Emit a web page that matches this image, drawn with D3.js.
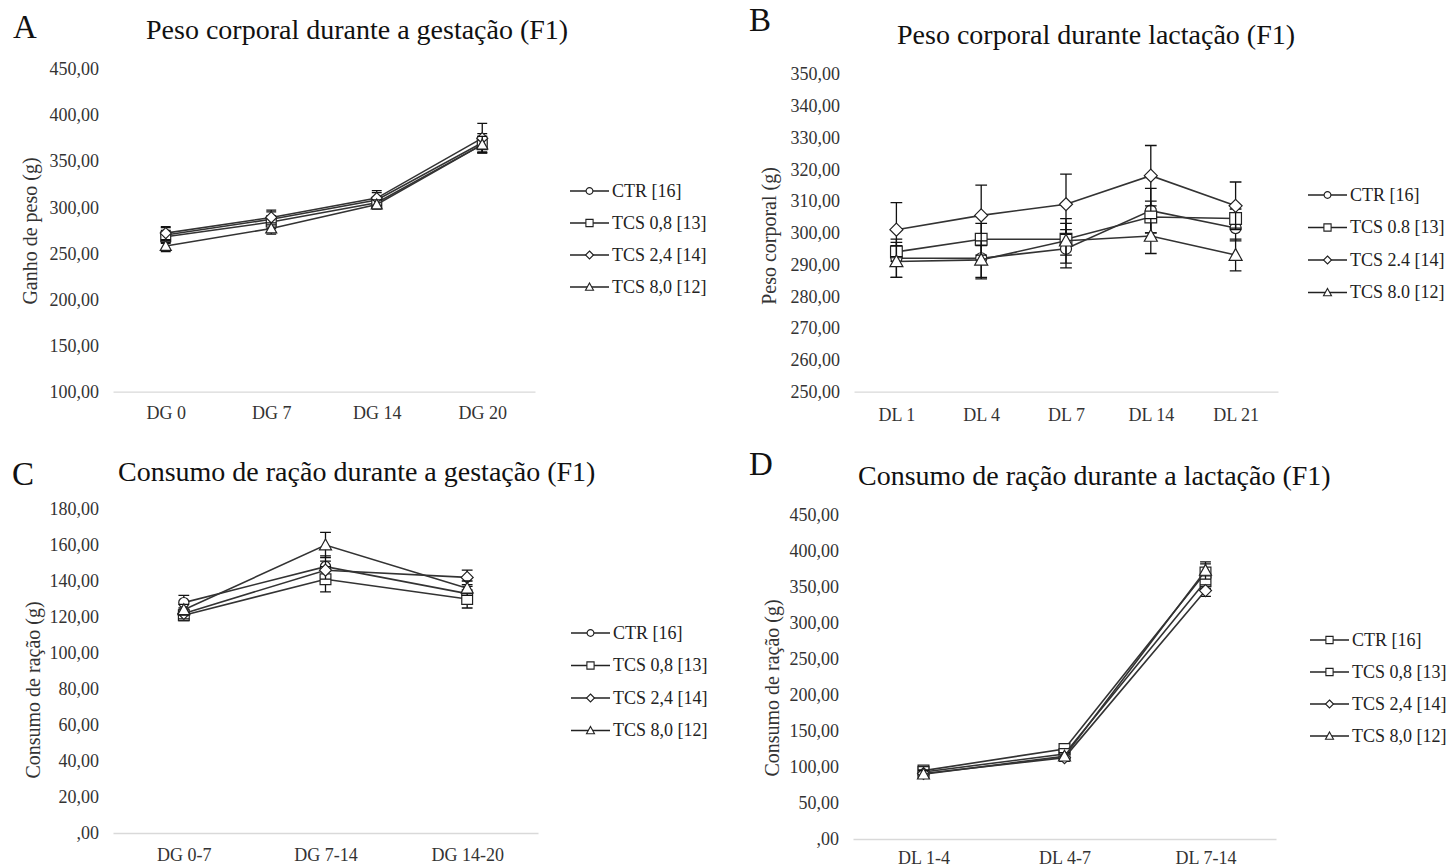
<!DOCTYPE html>
<html>
<head>
<meta charset="utf-8">
<script src="https://cdn.jsdelivr.net/npm/d3@7"></script>
<style>
  body { margin: 0; background: #fff; }
  svg { display: block; font-family: "Liberation Serif", "Times New Roman", serif; }
</style>
</head>
<body>
<script>
// ---- data ----
const catsA = ['DG 0', 'DG 7', 'DG 14', 'DG 20'];
const catsB = ['DL 1', 'DL 4', 'DL 7', 'DL 14', 'DL 21'];
const catsC = ['DG 0-7', 'DG 7-14', 'DG 14-20'];
const catsD = ['DL 1-4', 'DL 4-7', 'DL 7-14'];

const namesComma = ['CTR [16]', 'TCS 0,8 [13]', 'TCS 2,4 [14]', 'TCS 8,0 [12]'];
const namesDot = ['CTR [16]', 'TCS 0.8 [13]', 'TCS 2.4 [14]', 'TCS 8.0 [12]'];
const markersABC = ['circle', 'square', 'diamond', 'triangle'];
const markersD = ['square', 'square', 'diamond', 'triangle'];

// A: peso corporal, gestação
const ctrA = [270, 287, 308, 370];
const tcs08A = [268, 284, 305, 368];
const tcs24A = [272, 289, 310, 375];
const tcs80A = [258, 277, 303, 368];
const errA = [[8, 8, 8, 10], [7, 7, 6, 9], [7, 8, 8, 16], [6, 6, 5, 9]];

// B: peso corporal, lactação
const ctrB = [292, 292, 295, 307, 301.5];
const tcs08B = [294, 298, 298, 305, 304.5];
const tcs24B = [301, 305.5, 309, 318, 308.5];
const tcs80B = [291, 291.5, 297.5, 299, 293];
const errB = [[6, 6, 6, 7, 4], [3, 5, 5, 5, 3], [8.5, 9.5, 9.5, 9.5, 7.5], [5, 6, 7, 5.5, 5]];

// C: consumo de ração, gestação
const ctrC = [128, 148, 133];
const tcs08C = [121, 141, 130];
const tcs24C = [122, 146, 142];
const tcs80C = [124, 160, 136];
const errC = [[4, 6, 4], [3, 7, 5], [3, 5, 4], [3, 7, 4]];

// D: consumo de ração, lactação
const ctrD = [95, 125, 370];
const tcs08D = [93, 118, 358];
const tcs24D = [91, 113, 345];
const tcs80D = [90, 115, 373];
const errD = [[6, 7, 12], [5, 6, 10], [5, 5, 8], [5, 5, 12]];

const ticksA = d3.range(100, 451, 50);
const ticksB = d3.range(250, 351, 10);
const ticksC = d3.range(0, 181, 20);
const ticksD = d3.range(0, 451, 50);

const fmt = v => v === 0 ? ',00' : d3.format('.2f')(v).replace('.', ',');

const panels = [
  { letter: 'A', lx: 13, ly: 38, title: 'Peso corporal durante a gestação (F1)', tx: 146, ty: 39,
    cats: catsA, series: [ctrA, tcs08A, tcs24A, tcs80A], errs: errA, names: namesComma, markers: markersABC,
    ytitle: 'Ganho de peso (g)', ytx: 30, yty: 231, ticks: ticksA,
    x0: 113, x1: 535, yb: 391.7, yt: 69, xly: 413, leg: { x: 570, y: 191, dy: 32 }, ms: 11 },
  { letter: 'B', lx: 749, ly: 31, title: 'Peso corporal durante lactação (F1)', tx: 897, ty: 44,
    cats: catsB, series: [ctrB, tcs08B, tcs24B, tcs80B], errs: errB, names: namesDot, markers: markersABC,
    ytitle: 'Peso corporal (g)', ytx: 769, yty: 236, ticks: ticksB,
    x0: 854, x1: 1278, yb: 391.7, yt: 74, xly: 415, leg: { x: 1308, y: 195, dy: 32.5 }, ms: 13 },
  { letter: 'C', lx: 12, ly: 485, title: 'Consumo de ração durante a gestação (F1)', tx: 118, ty: 481,
    cats: catsC, series: [ctrC, tcs08C, tcs24C, tcs80C], errs: errC, names: namesComma, markers: markersABC,
    ytitle: 'Consumo de ração (g)', ytx: 33, yty: 690, ticks: ticksC,
    x0: 113, x1: 538, yb: 833, yt: 509, xly: 855, leg: { x: 571, y: 633, dy: 32.5 }, ms: 12 },
  { letter: 'D', lx: 749, ly: 475, title: 'Consumo de ração durante a lactação (F1)', tx: 858, ty: 485,
    cats: catsD, series: [ctrD, tcs08D, tcs24D, tcs80D], errs: errD, names: namesComma, markers: markersD,
    ytitle: 'Consumo de ração (g)', ytx: 772, yty: 688, ticks: ticksD,
    x0: 853, x1: 1276, yb: 839, yt: 515, xly: 858, leg: { x: 1310, y: 640, dy: 32 }, ms: 12 },
];

function markerPath(type, s) {
  const h = s / 2;
  if (type === 'circle') {
    const p = d3.path();
    p.arc(0, 0, h * 0.85, 0, 2 * Math.PI);
    return p.toString();
  }
  if (type === 'square') return `M${-h * 0.9},${-h * 0.9}H${h * 0.9}V${h * 0.9}H${-h * 0.9}Z`;
  if (type === 'diamond') return `M0,${-h}L${h},0L0,${h}L${-h},0Z`;
  return `M0,${-h}L${h},${h * 0.8}L${-h},${h * 0.8}Z`;
}

const svg = d3.select('body').append('svg').attr('width', 1452).attr('height', 868);
const serif = '"Liberation Serif", "Times New Roman", serif';

panels.forEach(p => {
  const g = svg.append('g');
  const x = d3.scalePoint().domain(p.cats).range([p.x0, p.x1]).padding(0.5);
  const y = d3.scaleLinear().domain(d3.extent(p.ticks)).range([p.yb, p.yt]);

  g.append('text').attr('x', p.lx).attr('y', p.ly)
    .style('font-size', '33px').attr('fill', '#111').text(p.letter);
  g.append('text').attr('x', p.tx).attr('y', p.ty)
    .style('font-size', '28px').attr('fill', '#111').text(p.title);

  // y axis: labels only
  const ya = g.append('g').attr('transform', `translate(${p.x0},0)`)
    .call(d3.axisLeft(y).tickValues(p.ticks).tickSize(0).tickPadding(14).tickFormat(fmt))
    .attr('font-family', serif).attr('font-size', 18);
  ya.select('.domain').remove();
  ya.selectAll('text').attr('fill', '#333');

  // x axis: gray baseline
  const xa = g.append('g').attr('transform', `translate(0,${p.yb})`)
    .call(d3.axisBottom(x).tickSize(0).tickSizeOuter(0))
    .attr('font-family', serif).attr('font-size', 18);
  xa.select('.domain').attr('stroke', '#d9d9d9').attr('stroke-width', 1.3);
  xa.selectAll('text').attr('fill', '#333').attr('y', p.xly - p.yb).attr('dy', '0.35em');

  g.append('text')
    .attr('transform', `translate(${p.ytx},${p.yty}) rotate(-90)`)
    .attr('text-anchor', 'middle').attr('dy', '0.35em')
    .style('font-size', '20px').attr('fill', '#333').text(p.ytitle);

  const line = d3.line().x((d, i) => x(p.cats[i])).y(d => y(d));

  p.series.forEach((vals, si) => {
    const sg = g.append('g');
    const cap = p.ms * 0.45;
    vals.forEach((v, i) => {
      const cx = x(p.cats[i]);
      const e = p.errs[si][i];
      sg.append('path')
        .attr('d', `M${cx},${y(v - e)}V${y(v + e)}M${cx - cap},${y(v - e)}H${cx + cap}M${cx - cap},${y(v + e)}H${cx + cap}`)
        .attr('stroke', '#111').attr('stroke-width', 1.3).attr('fill', 'none');
    });
    sg.append('path').datum(vals).attr('d', line)
      .attr('fill', 'none').attr('stroke', '#333').attr('stroke-width', 1.6);
    sg.selectAll('.mk').data(vals).join('path')
      .attr('transform', (d, i) => `translate(${x(p.cats[i])},${y(d)})`)
      .attr('d', markerPath(p.markers[si], p.ms))
      .attr('fill', '#fff').attr('stroke', '#222').attr('stroke-width', 1.2);
  });

  // legend
  const lg = g.append('g').attr('transform', `translate(${p.leg.x},${p.leg.y})`);
  p.names.forEach((n, i) => {
    const row = lg.append('g').attr('transform', `translate(0,${i * p.leg.dy})`);
    row.append('line').attr('x1', 0).attr('x2', 39).attr('stroke', '#222').attr('stroke-width', 1.5);
    row.append('path').attr('transform', 'translate(19.5,0)')
      .attr('d', markerPath(p.markers[i], 8))
      .attr('fill', '#fff').attr('stroke', '#222').attr('stroke-width', 1.1);
    row.append('text').attr('x', 42).attr('dy', '0.33em')
      .style('font-size', '18px').attr('fill', '#222').text(n);
  });
});
</script>
</body>
</html>
